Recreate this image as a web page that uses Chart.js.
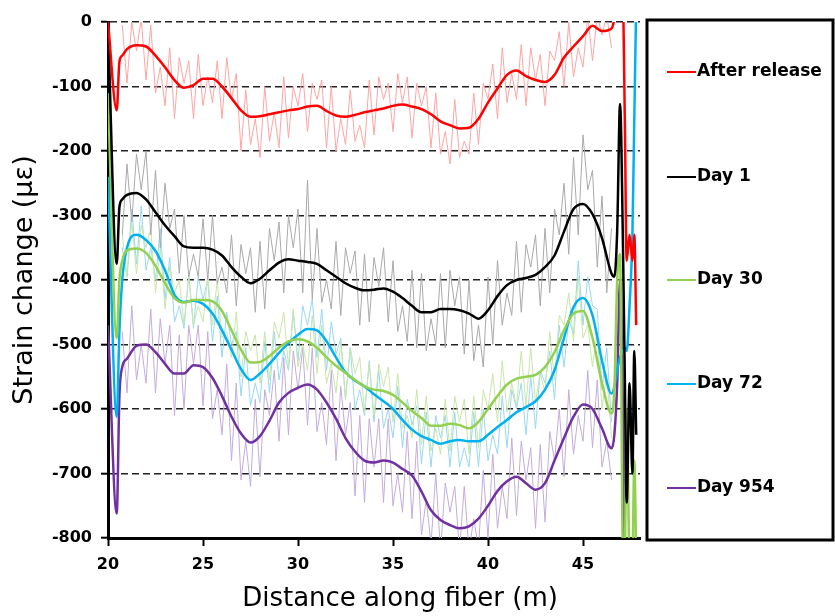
<!DOCTYPE html>
<html>
<head>
<meta charset="utf-8">
<script src="https://cdn.jsdelivr.net/npm/chart.js@4"></script>
<style>
  html, body { margin: 0; padding: 0; background: #fff; }
  #wrap { width: 835px; height: 616px; }
</style>
</head>
<body>
<div id="wrap"><canvas id="strainChart"></canvas></div>
<script>
// smoothed curves (distance in m, strain in microstrain)
const distance = [20, 20.46, 20.6, 20.75, 21, 21.5, 22, 22.5, 23, 23.5, 24, 24.5, 25, 25.5, 26, 26.5, 27, 27.5, 28, 28.5,
  29, 29.5, 30, 30.5, 31, 31.5, 32, 32.5, 33, 33.5, 34, 34.5, 35, 35.5, 36, 36.5, 37, 37.5, 38, 38.5,
  39, 39.5, 40, 40.5, 41, 41.5, 42, 42.5, 43, 43.5, 44, 44.5, 45, 45.5, 46, 46.5, 46.65, 46.8, 46.95, 47.1,
  47.2, 47.3, 47.45, 47.6, 47.7, 47.8];

const afterRelease = [0, -137, -62, -52, -42, -36, -38, -52, -70, -90, -102, -98, -88, -88, -100, -118, -137, -147, -146, -143,
  -140, -137, -135, -131, -130, -138, -145, -147, -144, -140, -137, -134, -130, -128, -131, -135, -143, -154, -160, -165,
  -164, -150, -125, -103, -82, -75, -84, -90, -93, -82, -55, -38, -22, -6, -14, -10, 5, 40, 40, 30,
  -150, -370, -330, -370, -330, -470];
const day1 = [-5, -375, -287, -275, -268, -265, -275, -295, -315, -332, -348, -350, -350, -353, -362, -380, -395, -405, -398, -385,
  -373, -368, -370, -372, -375, -385, -395, -405, -412, -416, -415, -413, -418, -428, -440, -450, -450, -445, -445, -447,
  -452, -460, -447, -425, -408, -400, -397, -392, -380, -362, -325, -290, -282, -298, -335, -390, -395, -323, -127, -338,
  -550, -745, -560, -700, -510, -640];
const day30 = [-110, -490, -400, -370, -354, -351, -358, -378, -405, -428, -435, -431, -431, -433, -448, -478, -508, -528, -527, -518,
  -505, -495, -492, -495, -505, -520, -533, -544, -555, -565, -570, -572, -578, -590, -603, -614, -626, -626, -623, -625,
  -630, -620, -600, -580, -562, -553, -550, -547, -535, -512, -478, -452, -448, -490, -560, -607, -570, -400, -360, -820,
  -820, -600, -830, -830, -680, -830];
const day72 = [-240, -612, -480, -400, -350, -330, -338, -355, -385, -423, -434, -432, -437, -452, -478, -508, -538, -555, -545, -530,
  -513, -498, -485, -476, -478, -495, -520, -543, -556, -565, -577, -588, -600, -617, -632, -642, -648, -654, -650, -648,
  -650, -650, -640, -628, -617, -605, -597, -588, -570, -540, -490, -442, -428, -455, -525, -576, -566, -540, -520, -510,
  -505, -510, -440, -330, -150, 30];
const day954 = [-470, -762, -580, -535, -522, -502, -500, -512, -530, -545, -545, -532, -535, -552, -580, -612, -638, -652, -642, -618,
  -590, -575, -567, -562, -570, -590, -615, -645, -666, -680, -683, -680, -683, -693, -703, -728, -757, -772, -780, -785,
  -782, -770, -750, -727, -712, -705, -715, -725, -715, -680, -645, -612, -593, -600, -630, -661, -640, -560, -400, -600,
  -820, -830, null, null, null, null];

// raw (unsmoothed) readings, estimated from the faint traces
const rawDistance = [20.75, 21, 21.25, 21.5, 21.75, 22, 22.25, 22.5, 22.75, 23, 23.25, 23.5, 23.75, 24, 24.25, 24.5, 24.75, 25, 25.25, 25.5,
  25.75, 26, 26.25, 26.5, 26.75, 27, 27.25, 27.5, 27.75, 28, 28.25, 28.5, 28.75, 29, 29.25, 29.5, 29.75, 30, 30.25, 30.5,
  30.75, 31, 31.25, 31.5, 31.75, 32, 32.25, 32.5, 32.75, 33, 33.25, 33.5, 33.75, 34, 34.25, 34.5, 34.75, 35, 35.25, 35.5,
  35.75, 36, 36.25, 36.5, 36.75, 37, 37.25, 37.5, 37.75, 38, 38.25, 38.5, 38.75, 39, 39.25, 39.5, 39.75, 40, 40.25, 40.5,
  40.75, 41, 41.25, 41.5, 41.75, 42, 42.25, 42.5, 42.75, 43, 43.25, 43.5, 43.75, 44, 44.25, 44.5, 44.75, 45, 45.25, 45.5,
  45.75, 46, 46.25, 46.5];

const afterReleaseRaw = [-5, -95, 0, -45, 5, -90, -5, -110, -70, -130, -40, -150, -55, -95, -60, -150, -50, -130, -85, -125,
  -60, -150, -55, -120, -80, -200, -105, -190, -150, -210, -100, -185, -140, -195, -85, -180, -100, -130, -80, -170,
  -95, -120, -90, -195, -100, -200, -150, -190, -105, -185, -160, -195, -90, -175, -85, -120, -95, -170, -80, -125,
  -85, -180, -95, -130, -100, -195, -110, -205, -170, -220, -120, -210, -185, -205, -110, -190, -95, -120, -65, -150,
  -40, -125, -80, -120, -35, -130, -40, -90, -50, -130, -45, -60, -15, -100, 0, -85, -40, -70, 10, -60,
  10, -20, 10, -40];
const day1Raw = [-330, -220, -310, -205, -260, -200, -330, -230, -350, -250, -320, -290, -390, -300, -395, -360, -395, -305, -400, -300,
  -405, -380, -420, -330, -440, -345, -390, -350, -450, -340, -445, -320, -370, -310, -420, -300, -350, -290, -420, -245,
  -430, -320, -435, -400, -445, -340, -455, -350, -390, -355, -470, -360, -465, -365, -410, -350, -465, -370, -480, -440,
  -495, -385, -505, -390, -510, -460, -500, -390, -505, -385, -440, -395, -515, -400, -525, -470, -535, -395, -500, -370,
  -470, -420, -455, -340, -450, -345, -380, -330, -440, -320, -420, -290, -330, -250, -360, -210, -330, -175, -260, -230,
  -380, -270, -420, -320];
const day30Raw = [-330, -395, -310, -390, -315, -350, -320, -420, -350, -445, -380, -420, -400, -470, -395, -470, -440, -465, -395, -470,
  -400, -490, -480, -520, -450, -550, -480, -510, -485, -560, -480, -555, -465, -490, -450, -535, -445, -535, -500, -540,
  -455, -545, -470, -560, -530, -575, -495, -585, -505, -545, -520, -605, -530, -610, -530, -565, -535, -620, -545, -630,
  -610, -645, -570, -655, -580, -665, -630, -670, -585, -665, -580, -620, -585, -670, -580, -660, -570, -600, -545, -620,
  -525, -605, -560, -595, -510, -595, -505, -590, -545, -575, -480, -555, -455, -470, -420, -495, -395, -490, -470, -535,
  -480, -600, -545, -645];
const day72Raw = [-350, -395, -290, -375, -285, -385, -350, -400, -320, -430, -365, -465, -440, -475, -390, -475, -395, -430, -400, -495,
  -425, -520, -450, -500, -480, -580, -505, -595, -560, -590, -495, -575, -480, -555, -510, -540, -450, -525, -440, -470,
  -430, -520, -445, -540, -465, -515, -490, -585, -505, -600, -570, -610, -525, -620, -540, -630, -600, -645, -565, -660,
  -585, -625, -595, -685, -605, -690, -610, -645, -610, -690, -605, -690, -660, -690, -605, -690, -600, -680, -640, -670,
  -580, -660, -570, -600, -560, -640, -550, -630, -540, -560, -510, -585, -470, -535, -460, -485, -370, -470, -395, -440,
  -445, -570, -505, -620];
const day954Raw = [-480, -575, -440, -555, -500, -560, -445, -575, -460, -530, -470, -610, -485, -600, -470, -530, -470, -595, -480, -615,
  -570, -640, -530, -680, -560, -710, -650, -720, -585, -705, -570, -610, -540, -650, -520, -640, -510, -570, -505, -625,
  -505, -635, -590, -655, -540, -680, -565, -640, -590, -735, -610, -745, -615, -690, -615, -745, -615, -750, -700, -760,
  -635, -770, -650, -795, -740, -810, -700, -820, -715, -760, -720, -820, -720, -820, -770, -815, -695, -800, -670, -785,
  -720, -770, -645, -765, -650, -710, -660, -785, -655, -775, -635, -680, -600, -705, -570, -670, -610, -650, -540, -660,
  -555, -690, -650, -710];

const seriesNames = ['After release', 'Day 1', 'Day 30', 'Day 72', 'Day 954'];
const xTicks = [20, 25, 30, 35, 40, 45];

const lineColors = ['#ff0000', '#000000', '#92d050', '#00b0f0', '#7030a0'];
const rawColors = ['#ffa4a4', '#a9a9a9', '#c8e6a8', '#98d8f3', '#c3acdb'];

const smooth = [afterRelease, day1, day30, day72, day954];
const raw = [afterReleaseRaw, day1Raw, day30Raw, day72Raw, day954Raw];

const datasets = [];
smooth.forEach((vals, i) => {
  datasets.push({
    label: seriesNames[i],
    data: vals.map((v, j) => ({ x: distance[j], y: v })),
    borderColor: lineColors[i],
    borderWidth: 2.5,
    pointRadius: 0,
    spanGaps: true,
    cubicInterpolationMode: 'monotone',
    order: 0
  });
});
raw.forEach((vals, i) => {
  datasets.push({
    label: seriesNames[i] + ' (raw)',
    data: vals.map((v, j) => ({ x: rawDistance[j], y: v })),
    borderColor: rawColors[i],
    borderWidth: 1,
    pointRadius: 0,
    order: 1,
    isRaw: true
  });
});

// legend box on the right and the x axis title
const sideLegend = {
  id: 'sideLegend',
  afterDraw(chart) {
    const ctx = chart.ctx;
    ctx.save();
    ctx.lineWidth = 3;
    ctx.strokeStyle = '#000';
    ctx.strokeRect(647, 20, 186, 520);

    const rows = [72, 177, 280, 384, 488];
    ctx.font = 'bold 17px "DejaVu Sans"';
    ctx.textBaseline = 'middle';
    ctx.textAlign = 'left';
    chart.data.datasets.filter(d => !d.isRaw).forEach((d, i) => {
      ctx.strokeStyle = d.borderColor;
      ctx.lineWidth = 2;
      ctx.beginPath();
      ctx.moveTo(667, rows[i]);
      ctx.lineTo(696, rows[i]);
      ctx.stroke();
      ctx.fillStyle = '#000';
      ctx.fillText(d.label, 697, rows[i]);
    });

    ctx.font = '26px "DejaVu Sans"';
    ctx.textAlign = 'center';
    ctx.fillText('Distance along fiber (m)', 400, 599);
    ctx.restore();
  }
};

const tickFont = { family: 'DejaVu Sans', size: 16, weight: 'bold' };

new Chart(document.getElementById('strainChart'), {
  type: 'line',
  data: { datasets: datasets },
  options: {
    animation: false,
    responsive: true,
    maintainAspectRatio: false,
    devicePixelRatio: 1,
    layout: { padding: { top: 22, right: 195, bottom: 0, left: 0 } },
    plugins: {
      legend: { display: false },
      tooltip: { enabled: false }
    },
    scales: {
      x: {
        type: 'linear',
        min: 20,
        max: 48,
        afterBuildTicks: s => { s.ticks = xTicks.map(v => ({ value: v })); },
        afterFit: s => { s.height = 78; },
        grid: { drawOnChartArea: false, drawTicks: true, tickLength: 8, tickWidth: 2, tickColor: '#000' },
        border: { display: true, color: '#000', width: 3 },
        ticks: { color: '#000', padding: 9, maxRotation: 0, font: tickFont }
      },
      y: {
        min: -800,
        max: 0,
        afterFit: s => { s.width = 108; },
        grid: { color: '#222', lineWidth: 1.4, drawTicks: true, tickLength: 7, tickWidth: 2, tickColor: '#000', tickBorderDash: [20, 0] },
        border: { display: true, color: '#000', width: 3, dash: [7, 4] },
        ticks: { stepSize: 100, color: '#000', padding: 9, font: tickFont },
        title: {
          display: true,
          text: 'Strain change (με)',
          color: '#000',
          font: { family: 'DejaVu Sans', size: 27 },
          padding: { top: 9, bottom: 0 }
        }
      }
    }
  },
  plugins: [sideLegend]
});
</script>
</body>
</html>
